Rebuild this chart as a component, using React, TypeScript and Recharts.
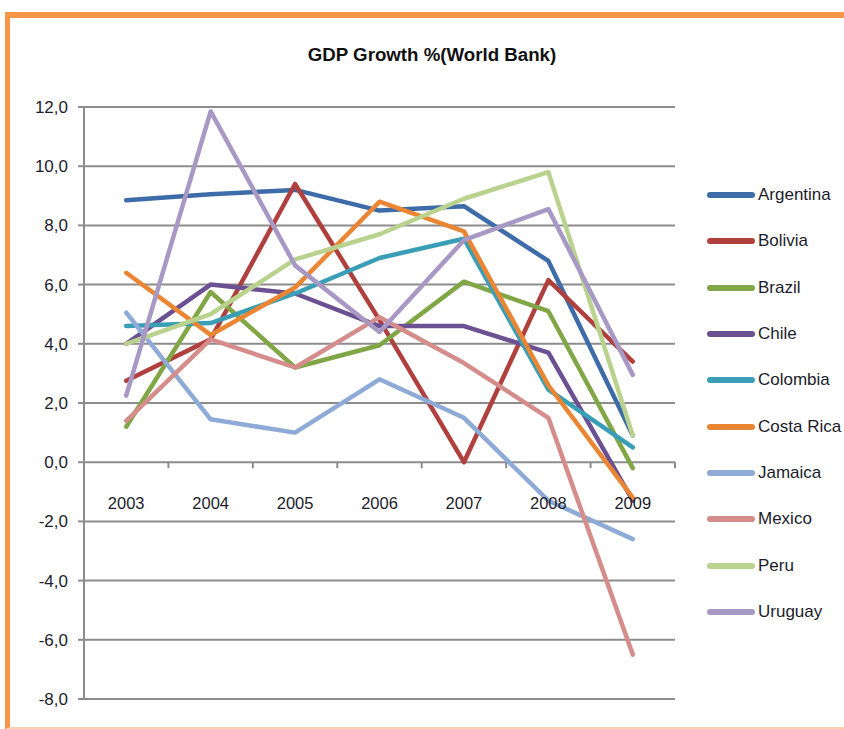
import React from 'react';
import { LineChart, Line, XAxis, YAxis, CartesianGrid, Legend } from 'recharts';

const CATEGORIES = ['2003', '2004', '2005', '2006', '2007', '2008', '2009'];
const ARGENTINA = [8.85, 9.05, 9.2, 8.5, 8.65, 6.8, 0.9];
const BOLIVIA = [2.75, 4.15, 9.4, 4.8, 0.0, 6.15, 3.4];
const BRAZIL = [1.2, 5.75, 3.2, 3.95, 6.1, 5.1, -0.2];
const CHILE = [4.0, 6.0, 5.7, 4.6, 4.6, 3.7, -1.3];
const COLOMBIA = [4.6, 4.7, 5.7, 6.9, 7.55, 2.45, 0.5];
const COSTA_RICA = [6.4, 4.3, 5.9, 8.8, 7.8, 2.6, -1.2];
const JAMAICA = [5.05, 1.45, 1.0, 2.8, 1.5, -1.3, -2.6];
const MEXICO = [1.4, 4.15, 3.2, 4.9, 3.35, 1.5, -6.5];
const PERU = [4.0, 5.0, 6.85, 7.7, 8.9, 9.8, 0.9];
const URUGUAY = [2.25, 11.85, 6.65, 4.4, 7.5, 8.55, 2.95];

const SERIES_NAMES = ['Argentina', 'Bolivia', 'Brazil', 'Chile', 'Colombia', 'Costa Rica', 'Jamaica', 'Mexico', 'Peru', 'Uruguay'];
const SERIES_VALUES = [ARGENTINA, BOLIVIA, BRAZIL, CHILE, COLOMBIA, COSTA_RICA, JAMAICA, MEXICO, PERU, URUGUAY];
const SERIES_COLORS = ['#3e6ca8', '#b0403d', '#80a646', '#6b5092', '#3a9fb6', '#ea8533', '#8eaad6', '#d48d8b', '#b9d28e', '#a898c4'];

const Y_TICKS = [-8, -6, -4, -2, 0, 2, 4, 6, 8, 10, 12];
const Y_MIN = -8;
const Y_MAX = 12;

const TITLE = 'GDP Growth %(World Bank)';

const data = CATEGORIES.map((year, i) => {
  const row: Record<string, number | string> = { year };
  SERIES_NAMES.forEach((name, s) => {
    row[name] = SERIES_VALUES[s][i];
  });
  return row;
});

// layout
const W = 844;
const H = 729;
const PLOT_TOP = 107;
const PLOT_LEFT = 84;
const PLOT_RIGHT = 675;
const PLOT_BOTTOM = 699;
const PLOT_W = PLOT_RIGHT - PLOT_LEFT;
const PLOT_H = PLOT_BOTTOM - PLOT_TOP;
const BAND = PLOT_W / CATEGORIES.length;
const ZERO_Y = PLOT_TOP + (PLOT_H * (Y_MAX - 0)) / (Y_MAX - Y_MIN);
const GRID = '#8c8c8c';
const FONT = '"Liberation Sans", Arial, sans-serif';
const TEXT = '#1c1c2c';

const XTick = (props: any) => {
  const { x, payload } = props;
  return (
    <g>
      <line x1={x + BAND / 2} x2={x + BAND / 2} y1={ZERO_Y} y2={ZERO_Y + 6} stroke={GRID} strokeWidth={2} />
      <text x={x} y={ZERO_Y + 41} dy="0.35em" textAnchor="middle" fill={TEXT} fontSize={16.5} fontFamily={FONT}>
        {payload.value}
      </text>
    </g>
  );
};

const LegendContent = (props: any) => {
  const { payload } = props;
  return (
    <div style={{ fontFamily: FONT }}>
      {(payload || []).map((entry: any) => (
        <div key={entry.value} style={{ height: 46.3, display: 'flex', alignItems: 'center', whiteSpace: 'nowrap' }}>
          <div style={{ width: 48, height: 6, borderRadius: 3, background: entry.color, marginRight: 3, flex: 'none' }} />
          <span style={{ fontSize: 17, color: TEXT, lineHeight: '20px' }}>{entry.value}</span>
        </div>
      ))}
    </div>
  );
};

export default function App() {
  return (
    <div style={{ position: 'fixed', left: 0, top: 0, width: W, height: H, background: '#fff', overflow: 'hidden' }}>
      <div
        style={{
          position: 'absolute',
          left: 5,
          top: 12,
          right: -10,
          bottom: 0,
          borderTop: '6px solid #f79646',
          borderLeft: '5px solid #f79646',
          borderBottom: '2px solid #fbd0ad',
        }}
      />
      <div
        style={{
          position: 'absolute',
          left: 0,
          top: 44,
          width: W,
          textAlign: 'center',
          fontFamily: FONT,
          fontWeight: 'bold',
          fontSize: 18.7,
          color: '#111',
          paddingLeft: 20,
          boxSizing: 'border-box',
        }}
      >
        {TITLE}
      </div>
      <div style={{ position: 'absolute', left: 0, top: 0 }}>
        <LineChart
          width={W}
          height={H}
          data={data}
          margin={{ top: PLOT_TOP, right: W - PLOT_RIGHT, bottom: 0, left: 24 }}
        >
          <CartesianGrid horizontal vertical={false} stroke={GRID} strokeWidth={2} />
          <XAxis
            dataKey="year"
            scale="band"
            height={H - PLOT_BOTTOM}
            axisLine={false}
            tickLine={false}
            interval={0}
            tick={<XTick />}
          />
          <YAxis
            width={60}
            domain={[Y_MIN, Y_MAX]}
            ticks={Y_TICKS}
            interval={0}
            tickFormatter={(v: number) => v.toFixed(1).replace('.', ',')}
            axisLine={{ stroke: GRID, strokeWidth: 2 }}
            tickLine={{ stroke: GRID, strokeWidth: 2 }}
            tickSize={6}
            tickMargin={10}
            tick={{ fill: TEXT, fontSize: 17, fontFamily: FONT }}
          />
          <Legend
            layout="vertical"
            align="center"
            verticalAlign="middle"
            content={<LegendContent />}
            wrapperStyle={{ left: 707, top: 172, width: 137 }}
          />
          {SERIES_NAMES.map((name, s) => (
            <Line
              key={name}
              type="linear"
              dataKey={name}
              name={name}
              stroke={SERIES_COLORS[s]}
              strokeWidth={4.5}
              strokeLinecap="round"
              strokeLinejoin="round"
              dot={false}
              activeDot={false}
              isAnimationActive={false}
            />
          ))}
        </LineChart>
      </div>
    </div>
  );
}
